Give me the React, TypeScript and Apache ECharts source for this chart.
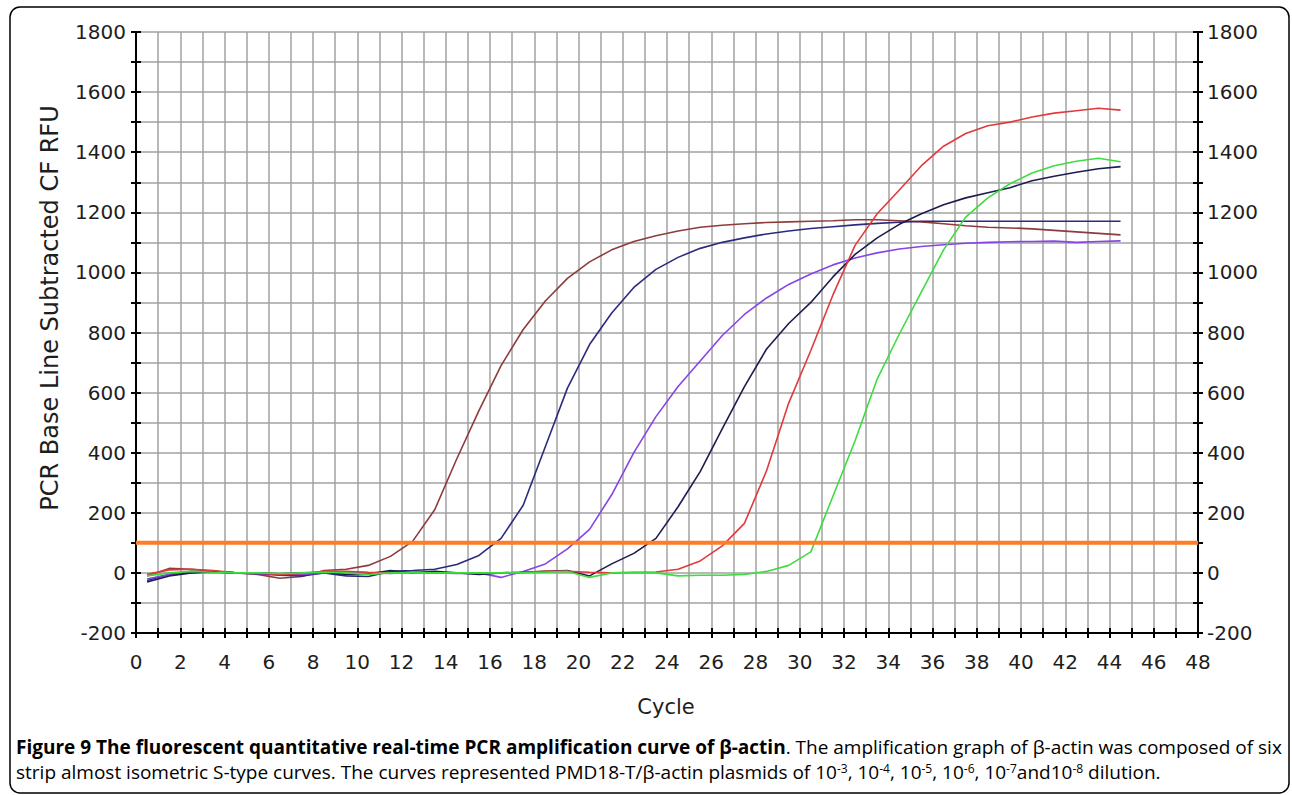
import React, { useEffect, useRef } from "react";
import * as echarts from "echarts";

// Cycle positions of the readings
const cycles = [
  0.5, 1.5, 2.5, 3.5, 4.5, 5.5, 6.5, 7.5, 8.5, 9.5, 10.5, 11.5, 12.5, 13.5, 14.5,
  15.5, 16.5, 17.5, 18.5, 19.5, 20.5, 21.5, 22.5, 23.5, 24.5, 25.5, 26.5, 27.5, 28.5, 29.5,
  30.5, 31.5, 32.5, 33.5, 34.5, 35.5, 36.5, 37.5, 38.5, 39.5, 40.5, 41.5, 42.5, 43.5, 44.5,
];

// RFU readings for each dilution
const dil3 = [
  -10, 15, 12, 5, 0, -5, -18, -12, 8, 12, 25, 55, 105, 210, 380,
  540, 690, 810, 905, 980, 1035, 1075, 1103, 1122, 1138, 1150, 1157, 1162, 1166, 1168,
  1170, 1172, 1175, 1175, 1172, 1168, 1162, 1155, 1150, 1148, 1145, 1140, 1135, 1130, 1125,
];
const dil4 = [
  -25, -5, 5, 3, 0, -3, -8, -10, 0, -10, -12, 5, 8, 12, 28,
  58, 115, 225, 420, 615, 760, 865, 950, 1010, 1050, 1080, 1100, 1115, 1128, 1138,
  1146, 1152, 1158, 1163, 1167, 1170, 1170, 1170, 1170, 1170, 1170, 1170, 1170, 1170, 1170,
];
const dil5 = [
  -20, -5, 0, 2, 0, -2, -5, -5, 0, 3, 0, -2, 2, 0, -2,
  0, -15, 5, 30, 80, 145, 260, 400, 520, 620, 705, 790, 860, 915, 960,
  995, 1025, 1048, 1065, 1078, 1086, 1092, 1097, 1100, 1102, 1103, 1104, 1100, 1103, 1105,
];
const dil6 = [
  -30, -10, 0, 5, 0, 0, -3, 0, 2, -5, -3, 8, 0, 5, 0,
  -5, 0, 2, 5, 8, -10, 30, 65, 115, 220, 337, 480, 620, 745, 830,
  900, 985, 1060, 1115, 1160, 1195, 1225, 1248, 1265, 1282, 1305, 1320, 1333, 1345, 1352,
];
const dil7 = [
  -5, 10, 12, 8, 0, 0, -5, -2, 5, 5, 2, 0, 2, 0, 0,
  0, 0, 2, 5, 5, 2, 0, 2, 3, 12, 40, 90, 165, 340, 565,
  740, 925, 1090, 1195, 1274, 1355, 1420, 1462, 1488, 1500, 1517, 1530, 1538, 1546, 1540,
];
const dil8 = [
  -10, 0, 5, 2, 0, 0, -2, 0, 2, 0, -5, 0, 0, 0, 0,
  0, 0, 0, 2, 5, -15, 0, 0, 0, -10, -8, -8, -5, 5, 25,
  70, 255, 440, 645, 795, 935, 1075, 1184, 1248, 1295, 1331, 1355, 1370, 1380, 1368,
];

const seriesNames = ["10^-3", "10^-4", "10^-5", "10^-6", "10^-7", "10^-8"];
const seriesColors = ["#8e3b3b", "#2b2b7e", "#8744e6", "#1c1c4e", "#e23a3a", "#3fdc3f"];
const seriesValues = [dil3, dil4, dil5, dil6, dil7, dil8];

const thresholdValue = 100;
const xRange = [0, 48];
const yRange = [-200, 1800];
const xTickLabels = [0, 2, 4, 6, 8, 10, 12, 14, 16, 18, 20, 22, 24, 26, 28, 30, 32, 34, 36, 38, 40, 42, 44, 46, 48];
const yTickLabels = [-200, 0, 200, 400, 600, 800, 1000, 1200, 1400, 1600, 1800];

const yTitle = "PCR Base Line Subtracted CF RFU";
const xTitle = "Cycle";
const captionBold = "Figure 9 The fluorescent quantitative real-time PCR amplification curve of β-actin";
const captionRest1 = ". The amplification graph of β-actin was composed of six";

export default function App() {
  const ref = useRef<HTMLDivElement>(null);
  useEffect(() => {
    const chart = echarts.init(ref.current as HTMLDivElement, null, { renderer: "svg" });
    const labelFont = { fontFamily: "DejaVu Sans", fontSize: 20, color: "#1e1e1e" };
    const tickStyle = { color: "#000", width: 2 };
    const xFmt = (v: number) => (xTickLabels.includes(v) ? String(v) : "");
    const yFmt = (v: number) => (yTickLabels.includes(v) ? String(v) : "");

    const option: any = {
      animation: false,
      backgroundColor: "#ffffff",
      grid: { left: 136, right: 94, top: 32, bottom: 162, containLabel: false },
      xAxis: [
        {
          type: "value", position: "bottom", min: xRange[0], max: xRange[1], interval: 1,
          axisLine: { onZero: false, lineStyle: { color: "#000", width: 2 } },
          axisTick: { show: true, inside: false, length: 5, lineStyle: tickStyle },
          axisLabel: { ...labelFont, margin: 19, formatter: xFmt },
          splitLine: { show: true, lineStyle: { color: "#a2a2a2", width: 1.5 } },
        },
        {
          type: "value", position: "bottom", offset: 0, min: xRange[0], max: xRange[1], interval: 1,
          axisLine: { show: false, onZero: false },
          axisTick: { show: true, inside: true, length: 5, lineStyle: tickStyle },
          axisLabel: { show: false },
          splitLine: { show: false },
        },
      ],
      yAxis: [
        {
          type: "value", position: "left", offset: 0, min: yRange[0], max: yRange[1], interval: 100,
          axisLine: { show: true, onZero: false, lineStyle: { color: "#000", width: 2 } },
          axisTick: { show: true, inside: false, length: 5, lineStyle: tickStyle },
          axisLabel: { ...labelFont, margin: 10, formatter: yFmt },
          splitLine: { show: true, lineStyle: { color: "#a2a2a2", width: 1.5 } },
        },
        {
          type: "value", position: "right", offset: 0, min: yRange[0], max: yRange[1], interval: 100,
          axisLine: { show: true, onZero: false, lineStyle: { color: "#000", width: 2 } },
          axisTick: { show: true, inside: false, length: 5, lineStyle: tickStyle },
          axisLabel: { ...labelFont, margin: 9, formatter: yFmt },
          splitLine: { show: false },
        },
        {
          type: "value", position: "left", offset: 0, min: yRange[0], max: yRange[1], interval: 100,
          axisLine: { show: false, onZero: false },
          axisTick: { show: true, inside: true, length: 5, lineStyle: tickStyle },
          axisLabel: { show: false },
          splitLine: { show: false },
        },
        {
          type: "value", position: "right", offset: 0, min: yRange[0], max: yRange[1], interval: 100,
          axisLine: { show: false, onZero: false },
          axisTick: { show: true, inside: true, length: 5, lineStyle: tickStyle },
          axisLabel: { show: false },
          splitLine: { show: false },
        },
      ],
      series: [
        ...seriesValues.map((vals, k) => ({
          name: seriesNames[k],
          type: "line",
          xAxisIndex: 0,
          yAxisIndex: 0,
          showSymbol: false,
          symbol: "none",
          smooth: false,
          z: 3,
          lineStyle: { color: seriesColors[k], width: 1.6 },
          itemStyle: { color: seriesColors[k] },
          data: cycles.map((c, i) => [c, vals[i]]),
        })),
        {
          name: "threshold",
          type: "line",
          xAxisIndex: 0,
          yAxisIndex: 0,
          showSymbol: false,
          symbol: "none",
          z: 4,
          lineStyle: { color: "#ff7d26", width: 4 },
          data: [[xRange[0], thresholdValue], [xRange[1], thresholdValue]],
        },
      ],
      graphic: [
        {
          type: "rect",
          shape: { x: 10, y: 7, width: 1279, height: 786, r: 10 },
          style: { fill: "none", stroke: "#000", lineWidth: 1.5 },
          z: 0,
        },
        {
          type: "text",
          x: 50,
          y: 308,
          rotation: Math.PI / 2,
          style: {
            text: yTitle,
            fontFamily: "DejaVu Sans",
            fontSize: 24,
            fill: "#1e1e1e",
            align: "center",
            verticalAlign: "middle",
          },
        },
        {
          type: "text",
          x: 666,
          y: 707,
          style: {
            text: xTitle,
            fontFamily: "DejaVu Sans",
            fontSize: 21,
            fill: "#1e1e1e",
            align: "center",
            verticalAlign: "middle",
          },
        },
        {
          type: "text",
          x: 16,
          y: 747,
          style: {
            text: "{b|" + captionBold + "}{n|" + captionRest1 + "}",
            align: "left",
            verticalAlign: "middle",
            rich: {
              b: { fontFamily: "Open Sans", fontSize: 19, lineHeight: 20, fontWeight: "bold", fill: "#000", color: "#000" },
              n: { fontFamily: "Open Sans", fontSize: 19, lineHeight: 20, fill: "#000", color: "#000" },
            },
          },
        },
        {
          type: "text",
          x: 16,
          y: 772,
          style: {
            text:
              "{n|strip almost isometric S-type curves. The curves represented PMD18-T/β-actin plasmids of 10}{s|-3}{n|, 10}{s|-4}{n|, 10}{s|-5}{n|, 10}{s|-6}{n|, 10}{s|-7}{n|and10}{s|-8}{n| dilution.}",
            align: "left",
            verticalAlign: "middle",
            rich: {
              n: { fontFamily: "Open Sans", fontSize: 19, lineHeight: 20, fill: "#000", color: "#000" },
              s: { fontFamily: "Open Sans", fontSize: 12, lineHeight: 13, verticalAlign: "top", fill: "#000", color: "#000" },
            },
          },
        },
      ],
    };
    chart.setOption(option);
    return () => chart.dispose();
  }, []);
  return (
    <div
      ref={ref}
      style={{ position: "absolute", left: 0, top: 0, width: 1292, height: 795, background: "#fff" }}
    />
  );
}
